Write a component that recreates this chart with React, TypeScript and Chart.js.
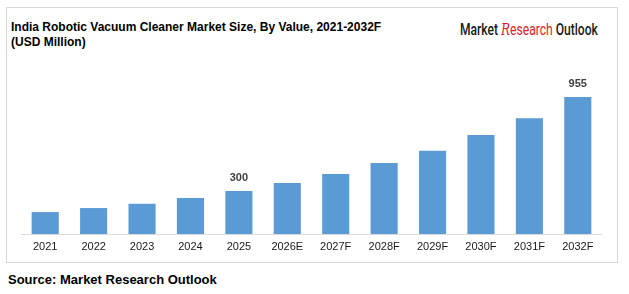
import React, { useEffect, useRef } from "react";
import { Chart, registerables } from "chart.js";

Chart.register(...registerables);

const categories = ["2021", "2022", "2023", "2024", "2025", "2026E", "2027F", "2028F", "2029F", "2030F", "2031F", "2032F"];
const values = [153, 181, 211, 251, 300, 355, 418, 495, 581, 690, 808, 955];
const labelledIndices = [4, 11];
const yMax = 1200;

const titleLine1 = "India Robotic Vacuum Cleaner Market Size, By Value, 2021-2032F";
const titleLine2 = "(USD Million)";
const sourceText = "Source: Market Research Outlook";

const barLabelPlugin = {
  id: "barLabels",
  afterDatasetsDraw(chart: any) {
    const ctx = chart.ctx;
    const meta = chart.getDatasetMeta(0);
    ctx.save();
    ctx.font = "bold 11px 'Liberation Sans', Arial, sans-serif";
    ctx.fillStyle = "#404040";
    ctx.textAlign = "center";
    ctx.textBaseline = "middle";
    labelledIndices.forEach((i) => {
      const el = meta.data[i];
      ctx.fillText(String(values[i]), el.x, el.y - 13);
    });
    ctx.restore();
  },
};

export default function App() {
  const canvasRef = useRef<HTMLCanvasElement | null>(null);

  useEffect(() => {
    document.body.style.margin = "0";
    const chart = new Chart(canvasRef.current as HTMLCanvasElement, {
      type: "bar",
      data: {
        labels: categories,
        datasets: [
          {
            data: values,
            backgroundColor: "#5B9BD5",
            barPercentage: 0.56,
            categoryPercentage: 1,
          },
        ],
      },
      options: {
        animation: false,
        responsive: false,
        maintainAspectRatio: false,
        layout: { padding: 0 },
        plugins: { legend: { display: false }, tooltip: { enabled: false }, title: { display: false } },
        scales: {
          x: {
            grid: { display: false, drawTicks: false },
            border: { display: true, color: "#d9d9d9", width: 1 },
            ticks: {
              color: "#1a1a1a",
              padding: 6,
              maxRotation: 0,
              autoSkip: false,
              font: { family: "'Liberation Sans', Arial, sans-serif", size: 11, lineHeight: "13px" },
            },
          },
          y: { display: false, min: 0, max: yMax },
        },
      },
      plugins: [barLabelPlugin],
    });
    return () => chart.destroy();
  }, []);

  const font = "'Liberation Sans', Arial, sans-serif";
  return (
    <div style={{ position: "relative", width: 629, height: 294, background: "#fff", fontFamily: font, overflow: "hidden" }}>
      <div style={{ position: "absolute", left: 6, top: 7, width: 610, height: 254, border: "1px solid #d9d9d9" }} />
      <div style={{ position: "absolute", left: 11, top: 20, fontWeight: "bold", fontSize: 12, lineHeight: "15px", color: "#000" }}>
        <div>{titleLine1}</div>
        <div>{titleLine2}</div>
      </div>
      <div
        style={{
          position: "absolute",
          left: 460,
          top: 20,
          fontSize: 16,
          lineHeight: "20px",
          fontFamily: "Roboto, 'Liberation Sans', sans-serif",
          fontWeight: 500,
          color: "#1a1a1a",
          whiteSpace: "nowrap",
          transform: "scaleX(0.755)",
          transformOrigin: "left center",
        }}
      >
        <span>Market </span>
        <span style={{ color: "#d7262b", fontWeight: 400 }}>
          <span style={{ fontStyle: "italic", fontFamily: "'DejaVu Serif', serif" }}>R</span>esearch
        </span>
        <span> Outlook</span>
      </div>
      <canvas ref={canvasRef} width={581} height={197} style={{ position: "absolute", left: 21, top: 62, width: 581, height: 197 }} />
      <div style={{ position: "absolute", left: 8, top: 272, fontWeight: "bold", fontSize: 13, lineHeight: "16px", color: "#000" }}>
        {sourceText}
      </div>
    </div>
  );
}
